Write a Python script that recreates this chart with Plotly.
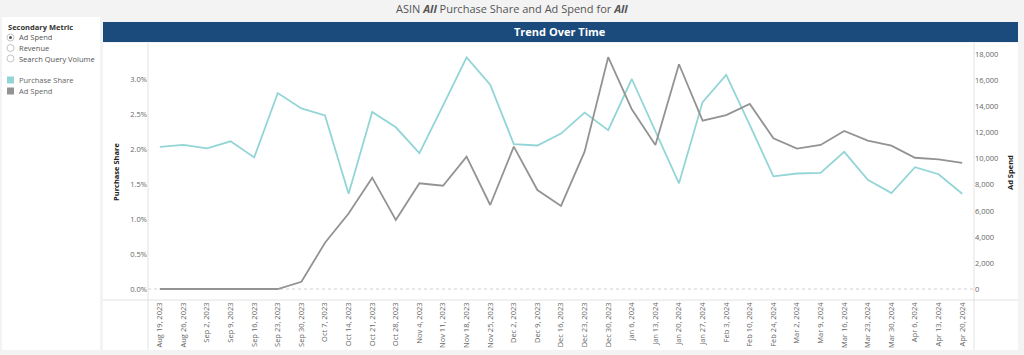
import plotly.graph_objects as go

W, H = 1024, 355

dates = ["Aug 19, 2023", "Aug 26, 2023", "Sep 2, 2023", "Sep 9, 2023", "Sep 16, 2023",
         "Sep 23, 2023", "Sep 30, 2023", "Oct 7, 2023", "Oct 14, 2023", "Oct 21, 2023",
         "Oct 28, 2023", "Nov 4, 2023", "Nov 11, 2023", "Nov 18, 2023", "Nov 25, 2023",
         "Dec 2, 2023", "Dec 9, 2023", "Dec 16, 2023", "Dec 23, 2023", "Dec 30, 2023",
         "Jan 6, 2024", "Jan 13, 2024", "Jan 20, 2024", "Jan 27, 2024", "Feb 3, 2024",
         "Feb 10, 2024", "Feb 24, 2024", "Mar 2, 2024", "Mar 9, 2024", "Mar 16, 2024",
         "Mar 23, 2024", "Mar 30, 2024", "Apr 6, 2024", "Apr 13, 2024", "Apr 20, 2024"]

purchase_share = [0.0203, 0.0206, 0.0201, 0.0211, 0.0188, 0.0280, 0.0258, 0.0248, 0.0136, 0.0253,
                  0.0231, 0.0194, 0.0262, 0.0331, 0.0292, 0.0207, 0.0205, 0.0222, 0.0252, 0.0227,
                  0.0300, 0.0225, 0.0151, 0.0267, 0.0306, 0.0234, 0.0161, 0.0165, 0.0166, 0.0196,
                  0.0156, 0.0137, 0.0174, 0.0164, 0.0136]

ad_spend = [0, 0, 0, 0, 0, 0, 550, 3550, 5800, 8550,
            5300, 8120, 7930, 10160, 6450, 10930, 7600, 6380, 10550, 17800,
            13800, 11060, 17260, 12930, 13360, 14210, 11580, 10780, 11060, 12140,
            11390, 11010, 10080, 9960, 9680]

left_ticks = [0, 0.005, 0.01, 0.015, 0.02, 0.025, 0.03]
right_ticks = [0, 2000, 4000, 6000, 8000, 10000, 12000, 14000, 16000, 18000]

teal = "#93d5d7"
grey = "#939393"
navy = "#1b4a7d"
font_family = "Open Sans, Lato, sans-serif"


def px(x):
    return x / W


def py(y):
    return 1 - y / H


fig = go.Figure()
fig.add_trace(go.Scatter(x=dates, y=purchase_share, mode="lines", name="Purchase Share",
                         line=dict(color=teal, width=1.8), yaxis="y"))
fig.add_trace(go.Scatter(x=dates, y=ad_spend, mode="lines", name="Ad Spend",
                         line=dict(color=grey, width=1.8), yaxis="y2"))

plot_l, plot_r, plot_t, plot_b = 148, 974, 44, 300

shapes = []
shapes.append(dict(type="rect", xref="paper", yref="paper", x0=px(2), x1=px(100), y0=py(350), y1=py(17),
                   fillcolor="white", line=dict(width=0), layer="below"))
shapes.append(dict(type="rect", xref="paper", yref="paper", x0=px(103), x1=px(1018), y0=py(350), y1=py(43),
                   fillcolor="white", line=dict(width=0), layer="below"))
shapes.append(dict(type="rect", xref="paper", yref="paper", x0=px(103), x1=px(1018), y0=py(42), y1=py(22),
                   fillcolor=navy, line=dict(width=0), layer="below"))
sep = "#e2e2e2"
shapes.append(dict(type="line", xref="paper", yref="paper", x0=px(plot_l), x1=px(plot_l), y0=py(350), y1=py(43),
                   line=dict(color=sep, width=1)))
shapes.append(dict(type="line", xref="paper", yref="paper", x0=px(plot_r), x1=px(plot_r), y0=py(350), y1=py(43),
                   line=dict(color=sep, width=1)))
shapes.append(dict(type="line", xref="paper", yref="paper", x0=px(103), x1=px(1018), y0=py(plot_b), y1=py(plot_b),
                   line=dict(color=sep, width=1)))
# zero line (dotted)
shapes.append(dict(type="line", xref="paper", yref="y", x0=px(plot_l), x1=px(plot_r), y0=0, y1=0,
                   line=dict(color="#d0d0d0", width=1, dash="dot"), layer="below"))
shapes.append(dict(type="rect", xref="paper", yref="paper", x0=px(7), x1=px(14), y0=py(83.5), y1=py(76.5),
                   fillcolor=teal, line=dict(width=0)))
shapes.append(dict(type="rect", xref="paper", yref="paper", x0=px(7), x1=px(14), y0=py(94.5), y1=py(87.5),
                   fillcolor=grey, line=dict(width=0)))
for i, yy in enumerate([37.5, 48, 58.5]):
    shapes.append(dict(type="circle", xref="paper", yref="paper", x0=px(7), x1=px(14), y0=py(yy + 3.5), y1=py(yy - 3.5),
                       line=dict(color="#b5b5b5", width=0.8), fillcolor="white"))
    if i == 0:
        shapes.append(dict(type="circle", xref="paper", yref="paper", x0=px(9), x1=px(12), y0=py(yy + 1.5), y1=py(yy - 1.5),
                           line=dict(width=0), fillcolor="#555555"))

annotations = []
annotations.append(dict(xref="paper", yref="paper", x=px(512), y=py(8.5), xanchor="center", yanchor="middle",
                        text="ASIN <b><i>All</i></b> Purchase Share and Ad Spend for <b><i>All</i></b>",
                        showarrow=False, font=dict(family=font_family, size=11, color="#555555")))
annotations.append(dict(xref="paper", yref="paper", x=px(560), y=py(32), xanchor="center", yanchor="middle",
                        text="<b>Trend Over Time</b>", showarrow=False,
                        font=dict(family=font_family, size=11, color="white")))
annotations.append(dict(xref="paper", yref="paper", x=px(6), y=py(27), xanchor="left", yanchor="middle",
                        text="<b>Secondary Metric</b>", showarrow=False,
                        font=dict(family=font_family, size=7.5, color="#333333")))
for label, yy in zip(["Ad Spend", "Revenue", "Search Query Volume"], [37.5, 48, 58.5]):
    annotations.append(dict(xref="paper", yref="paper", x=px(17), y=py(yy), xanchor="left", yanchor="middle",
                            text=label, showarrow=False,
                            font=dict(family=font_family, size=7.5, color="#555555")))
for label, yy in zip(["Purchase Share", "Ad Spend"], [80, 91]):
    annotations.append(dict(xref="paper", yref="paper", x=px(17), y=py(yy), xanchor="left", yanchor="middle",
                            text=label, showarrow=False,
                            font=dict(family=font_family, size=7.5, color="#666666")))
annotations.append(dict(xref="paper", yref="paper", x=px(116), y=py(172), xanchor="center", yanchor="middle",
                        text="<b>Purchase Share</b>", textangle=-90, showarrow=False,
                        font=dict(family=font_family, size=7.5, color="#222222")))
annotations.append(dict(xref="paper", yref="paper", x=px(1010), y=py(173), xanchor="center", yanchor="middle",
                        text="<b>Ad Spend</b>", textangle=-90, showarrow=False,
                        font=dict(family=font_family, size=7.5, color="#222222")))

ps_per_px = 0.005 / 35.0
as_per_px = 2000 / 26.04
zero_y = 289
y_lo = -(plot_b - zero_y) * ps_per_px
y_hi = (zero_y - plot_t) * ps_per_px
y2_lo = -(plot_b - zero_y) * as_per_px
y2_hi = (zero_y - plot_t) * as_per_px

tick_font = dict(family=font_family, size=7.5, color="#666666")

fig.update_layout(
    width=W, height=H,
    margin=dict(l=0, r=0, t=0, b=0),
    paper_bgcolor="#f3f3f3",
    plot_bgcolor="rgba(0,0,0,0)",
    showlegend=False,
    shapes=shapes,
    annotations=annotations,
    xaxis=dict(domain=[px(plot_l), px(plot_r)], type="category", categoryorder="array", categoryarray=dates,
               range=[-0.5, len(dates) - 0.5], tickangle=-90, tickfont=tick_font, showgrid=False,
               showline=False, zeroline=False, ticks=""),
    yaxis=dict(domain=[py(plot_b), py(plot_t)], range=[y_lo, y_hi], tickvals=left_ticks, tickformat=".1%",
               tickfont=tick_font, showgrid=False, zeroline=False, showline=False, ticks=""),
    yaxis2=dict(domain=[py(plot_b), py(plot_t)], range=[y2_lo, y2_hi], tickvals=right_ticks, tickformat=",",
                overlaying="y", side="right", anchor="x", tickfont=tick_font, showgrid=False, zeroline=False,
                showline=False, ticks=""),
)

fig.write_html("out.html", config={"displayModeBar": False},
               post_script="document.body.style.margin='0';document.body.style.overflow='hidden';")
